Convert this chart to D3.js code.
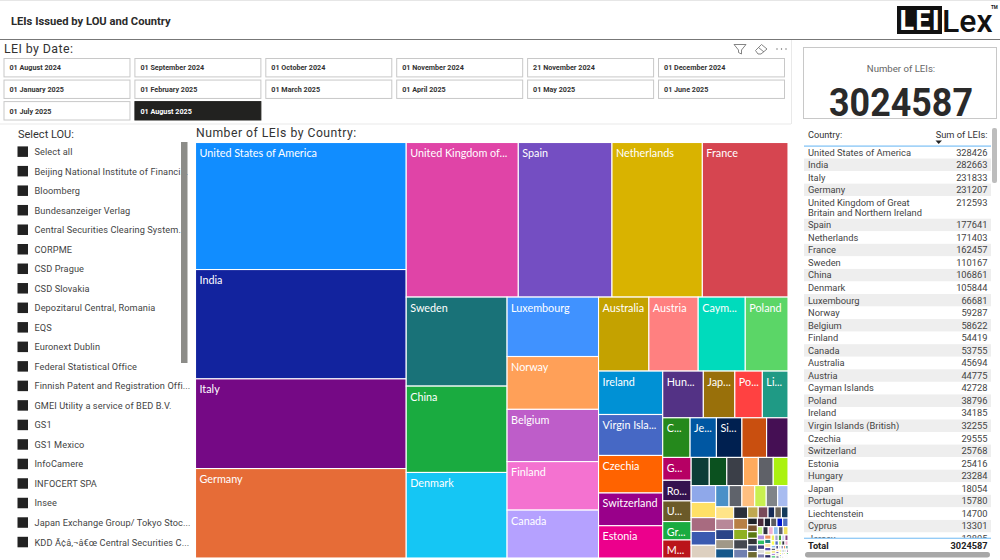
<!DOCTYPE html>
<html><head><meta charset="utf-8">
<script src="https://cdnjs.cloudflare.com/ajax/libs/d3/7.8.5/d3.min.js"></script>
<style>html,body{margin:0;padding:0;background:#fff;overflow:hidden}svg{display:block}</style>
</head><body><svg id="c" width="1000" height="560"></svg>
<script>
const titleText = "LEIs Issued by LOU and Country";
const dateLabels = ["01 August 2024","01 September 2024","01 October 2024","01 November 2024","21 November 2024","01 December 2024","01 January 2025","01 February 2025","01 March 2025","01 April 2025","01 May 2025","01 June 2025","01 July 2025","01 August 2025"];
const selectedDate = "01 August 2025";
const louLabels = ["Select all","Beijing National Institute of Financi...","Bloomberg","Bundesanzeiger Verlag","Central Securities Clearing System...","CORPME","CSD Prague","CSD Slovakia","Depozitarul Central, Romania","EQS","Euronext Dublin","Federal Statistical Office","Finnish Patent and Registration Offi...","GMEI Utility a service of BED B.V.","GS1","GS1 Mexico","InfoCamere","INFOCERT SPA","Insee","Japan Exchange Group/ Tokyo Stoc...","KDD Ã¢â‚¬â€œ Central Securities C..."];
const countryNames = ["United States of America","India","Italy","Germany","United Kingdom of Great Britain and Northern Ireland","Spain","Netherlands","France","Sweden","China","Denmark","Luxembourg","Norway","Belgium","Finland","Canada","Australia","Austria","Cayman Islands","Poland","Ireland","Virgin Islands (British)","Czechia","Switzerland","Estonia","Hungary","Japan","Portugal","Liechtenstein","Cyprus","Jersey","Singapore","","","Guernsey","Romania","United Arab Emirates","Greece","Malta"];
const namedValues = [328426,282663,231833,231207,212593,177641,171403,162457,110167,106861,105844,66681,59287,58622,54419,53755,45694,44775,42728,38796,34185,32255,29555,25768,25416,23284,18054,15780,14700,13301,12805,12400,12000,10400,7970,7200,7200,6430,6290];
const otherValues = [6250,6050,5750,5150,5130,5100,5080,4560,4150,4150,3830,3500,3350,3350,3000,2980,2700,2680,2350,2200,2040,2030,2000,1870,1760,1640,1500,1460,1350,940,910,900,820,820,800,790,790,780,720,680,660,600,570,560,540,520,510,500,480,450,430,410,390,370,350,330,310,290,280,270,260,250,240,230,220,210,200,190,180,170,160,150,145,140,130,125,120,115,110,105,100,95,90,85,80,75,70,65,60,55,50,48,45,42,40,38,35,32,30,28,25,22,20,18,15,12,10,8,6,4,2];
const namedColors = ["#118DFF","#12239E","#750985","#E66C37","#E044A7","#744EC2","#D9B300","#D64550","#197278","#1AAB40","#15C6F4","#4092FF","#FFA058","#BE5DC9","#F472D0","#B5A1FF","#C4A200","#FF8080","#00DBBC","#5BD667","#0091D5","#4668C5","#FF6300","#99008A","#EC008C","#533285","#99700A","#FF4141","#1F9A85","#25891C","#0057A2","#002050","#C94F0F","#450F54","#B60064","#34124F","#6B5A29","#1AAB40","#BA141A"];
const otherColors = ["#0C3D37","#0B511F","#3B3F48","#FFAB5D","#5F6168","#ABF20F","#8FA8EA","#FFE066","#A86B80","#3A5AB0","#DDD0C0","#4A90C8","#5F636B","#FFBF80","#C8F050","#808488","#A8BCF0","#FFE488","#B88898","#2A4488","#A09888","#15578A","#2A2F3A","#B88044","#8FB020","#454850","#7080B0","#C0A850","#7A4A5A","#162A58","#6A6258","#143A5A","#1F2328","#7A5530","#5A7A10","#333538","#445070","#6E6A30","#4A2A3A","#1A2030","#5A5A60","#0018D0"];
const tinyColors = ["#5a50b0","#e8e8a0","#2a2a60","#f0f060","#a0a0d0","#40a040","#d0d0f0","#804080","#ffff50","#5070c0","#c0f080","#303040","#f0b0d0","#90c0f0","#606070","#f0e060","#b090e0","#30c060","#404080","#e0e0e0","#8080b0","#f09060","#208080","#ffe0a0"];
const tableCount = 31;
const wrappedNames = {"United Kingdom of Great Britain and Northern Ireland":["United Kingdom of Great","Britain and Northern Ireland"]};
const totalValue = 3024587;

const din = "Roboto, 'Noto Sans', sans-serif";
const seg = "Lato, 'Open Sans', sans-serif";
const svg = d3.select("#c");
const defs = svg.append("defs");
function T(g,x,y,s,size,fill,weight,anchor,font){
  return g.append("text").attr("x",x).attr("y",y).text(s).attr("font-size",size).attr("fill",fill||"#333")
    .attr("font-weight",weight||400).attr("text-anchor",anchor||"start").attr("font-family",font||din).attr("dominant-baseline","central");
}
// header
svg.append("rect").attr("x",0).attr("y",0).attr("width",1000).attr("height",1).attr("fill","#e6e6e6");
T(svg,11,21,titleText,11.2,"#2b2b2b",700);
svg.append("rect").attr("x",0).attr("y",39).attr("width",1000).attr("height",1).attr("fill","#777");
// logo
const logo=svg.append("g");
logo.append("rect").attr("x",897).attr("y",6).attr("width",45).attr("height",28).attr("fill","#111");
T(logo,899.5,20.5,"LEI",27,"#fff",700,"start","Roboto").attr("letter-spacing",1.2);
T(logo,942,21,"Lex",32,"#111",500,"start","Roboto");
T(logo,991,7,"TM",4.5,"#111",700,"start");
// date slicer
const panel=svg.append("g");
panel.append("rect").attr("x",0).attr("y",123.5).attr("width",791).attr("height",1).attr("fill","#e9e9e9");
panel.append("rect").attr("x",791).attr("y",40).attr("width",1).attr("height",84).attr("fill","#e9e9e9");
T(panel,4,48,"LEI by Date:",12.4,"#333",400).attr("letter-spacing",0.4);
const bx=d3.scaleBand().domain(d3.range(6)).range([3.5,785]).paddingInner(0.03);
const by=d3.scaleBand().domain(d3.range(3)).range([58,120.5]).paddingInner(0.1);
const btn=panel.selectAll("g.b").data(dateLabels).join("g").attr("class","b")
  .attr("transform",(d,i)=>`translate(${bx(i%6)},${by(Math.floor(i/6))})`);
btn.append("rect").attr("x",.5).attr("y",.5).attr("width",bx.bandwidth()-1).attr("height",by.bandwidth()-1)
  .attr("fill",d=>d===selectedDate?"#222220":"#fff").attr("stroke",d=>d===selectedDate?"#222220":"#c8c8c8");
btn.append("text").text(d=>d).attr("x",6).attr("y",by.bandwidth()/2+.3).attr("dominant-baseline","central")
  .attr("font-size",7.2).attr("font-weight",700).attr("font-family",din).attr("fill",d=>d===selectedDate?"#fff":"#333");
// icons
const ic=svg.append("g").attr("fill","none").attr("stroke","#777").attr("stroke-width",.9);
ic.append("path").attr("d","M734 44.5H746L741.5 50V54L738.5 52.5V50Z");
ic.append("path").attr("d","M755.5 50.5L761.5 44.5L767 49L761 54H758Z M758.5 47.5L764 52");
[777,781.5,786].forEach(x=>svg.append("circle").attr("cx",x).attr("cy",49).attr("r",.7).attr("fill","#666"));
// card
const card=svg.append("g");
card.append("rect").attr("x",803.5).attr("y",47.5).attr("width",193).attr("height",71).attr("fill","#fff").attr("stroke","#c8c8c8");
T(card,901,68.5,"Number of LEIs:",9.6,"#666",400,"middle");
T(card,901,102,String(totalValue),39.5,"#2a2a2a",700,"middle").attr("textLength",144).attr("lengthAdjust","spacingAndGlyphs");
// LOU slicer
const lou=svg.append("g");
T(lou,18,134,"Select LOU:",11,"#333",400);
defs.append("clipPath").attr("id","louclip").append("rect").attr("x",0).attr("y",143).attr("width",190).attr("height",415);
const lrows=lou.append("g").attr("clip-path","url(#louclip)");
const ly=d3.scaleLinear().domain([0,1]).range([151.6,171.12]);
const lg=lrows.selectAll("g").data(louLabels).join("g").attr("transform",(d,i)=>`translate(0,${ly(i)})`);
lg.append("rect").attr("x",17.5).attr("y",-5.2).attr("width",10.5).attr("height",10.5).attr("fill","#222");
lg.append("text").text(d=>d).attr("x",34.5).attr("dominant-baseline","central").attr("font-size",9.2)
  .attr("font-family",din).attr("fill","#444").attr("letter-spacing",0.1);
lou.append("rect").attr("x",181).attr("y",142).attr("width",6.5).attr("height",221).attr("fill","#8c8c88");
// treemap
T(svg,196,132.5,"Number of LEIs by Country:",12.2,"#333",400).attr("letter-spacing",0.5);
const values=namedValues.concat(otherValues);
const leaves=values.map((v,i)=>({name:countryNames[i]||"",value:v,
  color:i<namedColors.length?namedColors[i]:(otherColors[i-namedColors.length]||tinyColors[i%tinyColors.length])}));
const root=d3.hierarchy({children:leaves}).sum(d=>d.value||0).sort((a,b)=>b.value-a.value);
d3.treemap().tile(d3.treemapSquarify).size([592.5,415.5])(root);
const tg=svg.append("g").attr("transform","translate(195.5,142.5)");
const cell=tg.selectAll("g").data(root.leaves()).join("g").attr("transform",d=>`translate(${d.x0},${d.y0})`);
cell.append("rect").attr("width",d=>Math.max(0,d.x1-d.x0)).attr("height",d=>Math.max(0,d.y1-d.y0))
  .attr("fill",d=>d.data.color).attr("stroke","#fff").attr("stroke-width",1.1);
cell.filter(d=>d.data.name&&d.x1-d.x0>=24).append("text").attr("x",4).attr("y",10)
  .attr("dominant-baseline","central").attr("font-size",10.8).attr("font-family",seg).attr("fill","#fff")
  .text(d=>d.data.name)
  .each(function(d){
    const max=d.x1-d.x0-7.5; const el=d3.select(this); let s=d.data.name;
    if(this.getComputedTextLength()<=max) return;
    while(s.length>1){ s=s.slice(0,-1); el.text(s.trimEnd()+"..."); if(this.getComputedTextLength()<=max) break; }
  });
// table
const tb=svg.append("g");
T(tb,808,134.5,"Country:",9.2,"#333",400);
T(tb,987.5,134.5,"Sum of LEIs:",9.3,"#333",400,"end");
tb.append("path").attr("d","M935.5 140.5H942L938.7 144Z").attr("fill","#222");
defs.append("clipPath").attr("id","tclip").append("rect").attr("x",800).attr("y",146).attr("width",192).attr("height",392);
const rowsG=tb.append("g").attr("clip-path","url(#tclip)");
const rowH=12.55, wrapH=22.5;
let yCur=146;
const tableRows=countryNames.slice(0,tableCount).map((n,i)=>{
  const lines=wrappedNames[n]||[n]; const h=lines.length>1?wrapH:rowH;
  const r={name:n,lines,value:namedValues[i],y:yCur,h,i}; yCur+=h; return r;
});
const rg=rowsG.selectAll("g").data(tableRows).join("g").attr("transform",d=>`translate(0,${d.y})`);
rg.append("rect").attr("x",804).attr("width",187).attr("height",d=>d.h).attr("fill",d=>d.i%2?"#eeeeee":"#fff");
rg.each(function(d){
  const g=d3.select(this);
  d.lines.forEach((l,k)=>g.append("text").text(l).attr("x",808).attr("y",6+k*10).attr("dominant-baseline","central")
    .attr("font-size",9.3).attr("font-family",din).attr("fill","#444"));
  g.append("text").text(d.value).attr("x",987.5).attr("y",6).attr("text-anchor","end").attr("dominant-baseline","central")
    .attr("font-size",9.3).attr("font-family",din).attr("fill","#444");
});
tb.append("rect").attr("x",804).attr("y",145.5).attr("width",187).attr("height",1.2).attr("fill","#7cc0f5");
tb.append("rect").attr("x",804).attr("y",537.7).attr("width",187).attr("height",1.1).attr("fill","#7cc0f5");
tb.append("rect").attr("x",804).attr("y",539).attr("width",187).attr("height",12).attr("fill","#fff");
T(tb,808,545.5,"Total",9.2,"#222",700);
T(tb,987.5,545.5,String(totalValue),9.2,"#222",700,"end");
tb.append("rect").attr("x",805).attr("y",552).attr("width",185).attr("height",5.5).attr("rx",2.7).attr("fill","#a8a8a8");
tb.append("rect").attr("x",992).attr("y",128).attr("width",5).attr("height",55).attr("rx",2).attr("fill","#bdbdbd");
</script></body></html>
